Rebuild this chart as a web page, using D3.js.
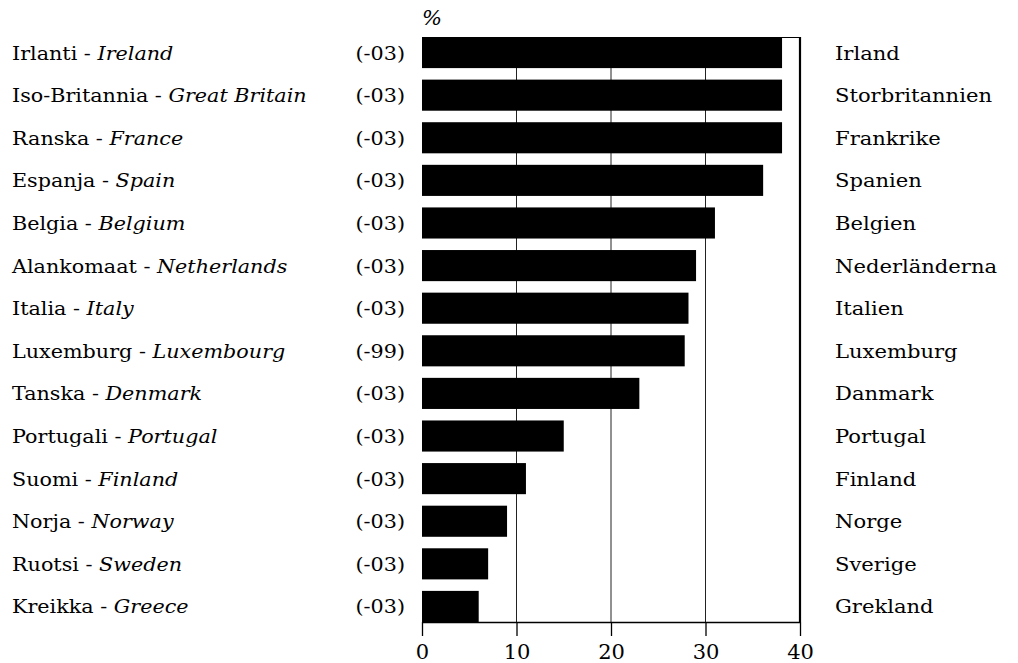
<!DOCTYPE html>
<html>
<head>
<meta charset="utf-8">
<script src="https://cdn.jsdelivr.net/npm/d3@7"></script>
<style>
  body { margin: 0; background: #fff; }
</style>
</head>
<body>
<div id="root"></div>
<script>
const namesFi = ["Irlanti", "Iso-Britannia", "Ranska", "Espanja", "Belgia", "Alankomaat", "Italia",
  "Luxemburg", "Tanska", "Portugali", "Suomi", "Norja", "Ruotsi", "Kreikka"];
const namesEn = ["Ireland", "Great Britain", "France", "Spain", "Belgium", "Netherlands", "Italy",
  "Luxembourg", "Denmark", "Portugal", "Finland", "Norway", "Sweden", "Greece"];
const namesSv = ["Irland", "Storbritannien", "Frankrike", "Spanien", "Belgien", "Nederländerna", "Italien",
  "Luxemburg", "Danmark", "Portugal", "Finland", "Norge", "Sverige", "Grekland"];
const years = ["(-03)", "(-03)", "(-03)", "(-03)", "(-03)", "(-03)", "(-03)",
  "(-99)", "(-03)", "(-03)", "(-03)", "(-03)", "(-03)", "(-03)"];
const values = [38.1, 38.1, 38.1, 36.1, 31, 29, 28.2, 27.8, 23, 15, 11, 9, 7, 6];
const xTicks = [0, 10, 20, 30, 40];
const unit = "%";

const width = 1018, height = 663;
const font = "DejaVu Serif";
const fs = 19;
const stretch = 1.09;

const svg = d3.select("#root").append("svg")
    .attr("width", width)
    .attr("height", height);

const x = d3.scaleLinear().domain([0, 40]).range([422, 800]);
const y = d3.scaleBand().domain(d3.range(values.length)).range([37, 622]).paddingInner(0.27).paddingOuter(0);

// gridlines at 10, 20, 30
svg.append("g")
  .selectAll("line")
  .data(xTicks.slice(1, -1))
  .join("line")
    .attr("x1", d => x(d)).attr("x2", d => x(d))
    .attr("y1", 37).attr("y2", 622)
    .attr("stroke", "#222")
    .attr("stroke-width", 1);

// top and right frame
svg.append("line")
    .attr("x1", x(0)).attr("x2", x(40) + 1)
    .attr("y1", 37.5).attr("y2", 37.5)
    .attr("stroke", "#000").attr("stroke-width", 1.2);
svg.append("line")
    .attr("x1", x(40)).attr("x2", x(40))
    .attr("y1", 37).attr("y2", 622)
    .attr("stroke", "#000").attr("stroke-width", 2.2);

// bars
svg.append("g")
  .selectAll("rect")
  .data(values)
  .join("rect")
    .attr("x", x(0))
    .attr("y", (d, i) => y(i))
    .attr("width", d => x(d) - x(0))
    .attr("height", y.bandwidth())
    .attr("fill", "#000");

// x axis
const axis = svg.append("g")
    .attr("transform", "translate(0,622)")
    .call(d3.axisBottom(x).tickValues(xTicks).tickSize(14).tickSizeOuter(0))
    .attr("font-family", font)
    .attr("font-size", 21);
axis.select(".domain").attr("stroke", "#000").attr("stroke-width", 1.6);
axis.selectAll(".tick line").attr("stroke", "#000").attr("stroke-width", 1.3);
axis.selectAll(".tick text")
    .attr("y", 37).attr("dy", null)
    .attr("fill", "#000");

// unit
svg.append("text")
    .attr("x", 422).attr("y", 25)
    .attr("font-family", font)
    .attr("font-size", 21)
    .attr("font-style", "italic")
    .text(unit);

const rowY = i => y(i) + y.bandwidth() / 2 + 7;

// left: Finnish - English
const left = svg.append("g")
  .selectAll("text")
  .data(namesFi)
  .join("text")
    .attr("transform", (d, i) => `translate(12,${rowY(i)}) scale(${stretch},1)`)
    .attr("font-family", font)
    .attr("font-size", fs);
left.append("tspan").text(d => d + " - ");
left.append("tspan").attr("font-style", "italic").text((d, i) => namesEn[i]);

// years
svg.append("g")
  .selectAll("text")
  .data(years)
  .join("text")
    .attr("transform", (d, i) => `translate(405,${rowY(i)}) scale(${stretch},1)`)
    .attr("text-anchor", "end")
    .attr("font-family", font)
    .attr("font-size", fs)
    .text(d => d);

// right: Swedish
svg.append("g")
  .selectAll("text")
  .data(namesSv)
  .join("text")
    .attr("transform", (d, i) => `translate(835,${rowY(i)}) scale(1.11,1)`)
    .attr("font-family", font)
    .attr("font-size", fs)
    .text(d => d);
</script>
</body>
</html>
